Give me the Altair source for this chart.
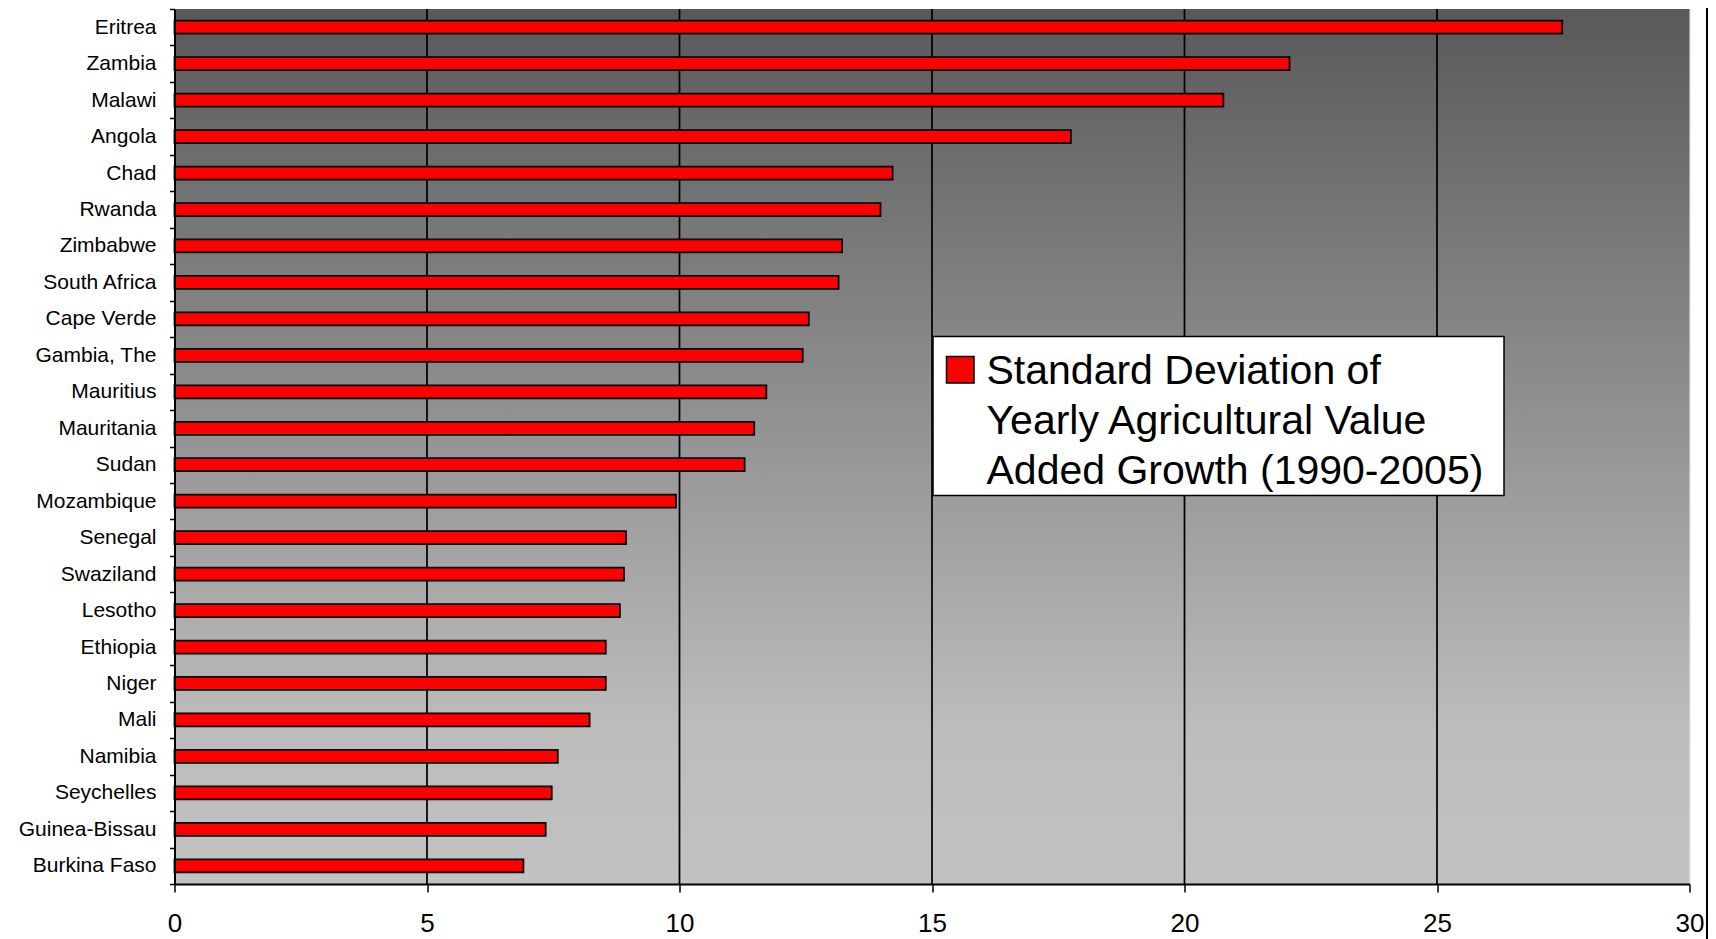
import altair as alt
import pandas as pd

# ---- data ----
countries = ["Eritrea", "Zambia", "Malawi", "Angola", "Chad", "Rwanda", "Zimbabwe",
             "South Africa", "Cape Verde", "Gambia, The", "Mauritius", "Mauritania",
             "Sudan", "Mozambique", "Senegal", "Swaziland", "Lesotho", "Ethiopia",
             "Niger", "Mali", "Namibia", "Seychelles", "Guinea-Bissau", "Burkina Faso"]
std_dev = [27.48, 22.08, 20.77, 17.75, 14.22, 13.98, 13.22, 13.15, 12.56, 12.44,
           11.72, 11.48, 11.29, 9.93, 8.94, 8.90, 8.82, 8.54, 8.54, 8.22,
           7.59, 7.47, 7.35, 6.91]
x_ticks = [0, 5, 10, 15, 20, 25, 30]
grid_values = [5, 10, 15, 20, 25]
legend_lines = ["Standard Deviation of", "Yearly Agricultural Value",
                "Added Growth (1990-2005)"]

W, H = 1515, 875
FONT = "Liberation Sans"

df = pd.DataFrame({"country": countries, "value": std_dev})
grid_df = pd.DataFrame({"value": grid_values})
one = pd.DataFrame({"label": ["\n".join(legend_lines)]})

x_scale = alt.Scale(domain=[0, 30], nice=False, zero=True)
x_axis = alt.Axis(values=x_ticks, grid=False, title=None, domainColor="black",
                  domainWidth=2, tickColor="black", tickWidth=1.5, tickSize=8,
                  labelFontSize=26, labelFont=FONT, labelColor="black",
                  labelPadding=18, labelFlush=False, zindex=1)
y_axis = alt.Axis(title=None, tickBand="extent", domainColor="black", domainWidth=2,
                  tickColor="black", tickWidth=1.5, tickSize=5, labelFontSize=21,
                  labelFont=FONT, labelColor="black", labelPadding=13.5,
                  labelLimit=400, zindex=1)

gradient = alt.LinearGradient(
    gradient="linear",
    stops=[alt.GradientStop(color="#595959", offset=0),
           alt.GradientStop(color="#bcbcbc", offset=0.82),
           alt.GradientStop(color="#c2c2c2", offset=1)],
    x1=0, x2=0, y1=0, y2=1)

background = alt.Chart(one).mark_rect(fill=gradient, strokeWidth=0).encode(
    x=alt.value(0), x2=alt.value(W), y=alt.value(0), y2=alt.value(H))

grid = alt.Chart(grid_df).mark_rule(color="black", strokeWidth=1.75).encode(
    x=alt.X("value:Q", scale=x_scale, axis=x_axis))

bars = alt.Chart(df).mark_bar(fill="#ff0000", stroke="black", strokeWidth=1.75,
                              size=13).encode(
    x=alt.X("value:Q", scale=x_scale, axis=x_axis),
    y=alt.Y("country:N", sort=countries,
            scale=alt.Scale(paddingInner=0, paddingOuter=0), axis=y_axis))

legend_box = alt.Chart(one).mark_rect(fill="white", stroke="black", strokeWidth=1.5).encode(
    x=alt.value(758.5), x2=alt.value(1329.5), y=alt.value(327.5), y2=alt.value(486.5))
legend_swatch = alt.Chart(one).mark_rect(fill="#ff0000", stroke="black", strokeWidth=1.5).encode(
    x=alt.value(772), x2=alt.value(799.5), y=alt.value(347.5), y2=alt.value(374))
legend_text = alt.Chart(one).mark_text(
    align="left", baseline="alphabetic", fontSize=41, font=FONT, color="black",
    lineBreak="\n", lineHeight=50).encode(
    x=alt.value(812), y=alt.value(375.3), text="label:N")

border = alt.Chart(one).mark_rule(color="black", strokeWidth=2).encode(
    x=alt.value(W + 17.5), y=alt.value(-1), y2=alt.value(930))

chart = alt.layer(background, grid, bars, legend_box, legend_swatch, legend_text, border).properties(
    width=W, height=H,
    autosize=alt.AutoSizeParams(type="none"),
    padding={"left": 166.5, "top": 1, "right": 18.5, "bottom": 56},
).configure_view(stroke="#b0b0b0", strokeWidth=1).configure(background="white")

chart.save("out.html", embed_options={"renderer": "svg", "actions": False})
